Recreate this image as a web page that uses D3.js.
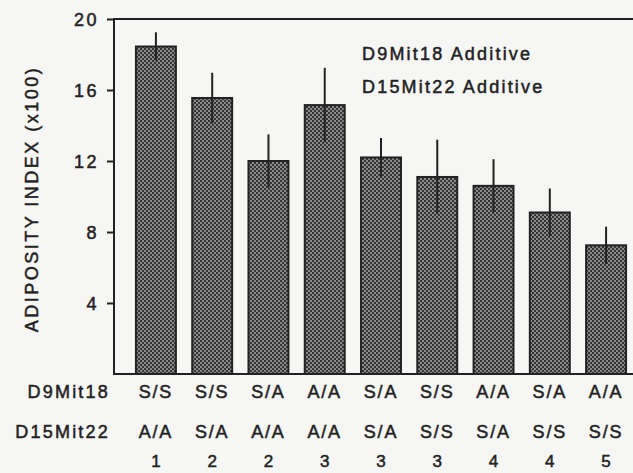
<!DOCTYPE html>
<html><head><meta charset="utf-8">
<script src="https://cdn.jsdelivr.net/npm/d3@7"></script>
<style>
html,body{margin:0;padding:0;background:#f6f6f4;overflow:hidden;}
svg{display:block;}
text{font-family:"Liberation Sans",Arial,Helvetica,sans-serif;fill:#222;stroke:#222;stroke-width:0.5px;}
</style></head>
<body>
<script>
const d9Mit18 = ["S/S","S/S","S/A","A/A","S/A","S/S","A/A","S/A","A/A"];
const d15Mit22 = ["A/A","S/A","A/A","A/A","S/A","S/S","S/A","S/S","S/S"];
const groupNumbers = ["1","2","2","3","3","3","4","4","5"];
const meanValues = [18.45, 15.55, 12.0, 15.15, 12.2, 11.1, 10.6, 9.1, 7.25];
const errValues = [0.8, 1.42, 1.5, 2.1, 1.1, 2.1, 1.5, 1.35, 1.05];
const yTicks = [4, 8, 12, 16, 20];
const legendLines = ["D9Mit18 Additive", "D15Mit22 Additive"];
const rowLabels = ["D9Mit18", "D15Mit22"];
const yTitle = "ADIPOSITY INDEX (x100)";

const W = 633, H = 473;
const mLeft = 114, mTop = 19, mBottom = 374, mRight = 633;

const svg = d3.select("body").append("svg").attr("width", W).attr("height", H);

const defs = svg.append("defs");
const pat = defs.append("pattern").attr("id","checker").attr("patternUnits","userSpaceOnUse")
  .attr("width",4).attr("height",4);
pat.append("rect").attr("width",4).attr("height",4).attr("fill","#8a8a8a");
pat.append("rect").attr("width",2).attr("height",2).attr("fill","#353535");
pat.append("rect").attr("x",2).attr("y",2).attr("width",2).attr("height",2).attr("fill","#353535");

const idx = d3.range(meanValues.length);
const x = d3.scaleBand().domain(idx).range([mLeft, 648]).paddingInner(0.29).paddingOuter(0.39);
const y = d3.scaleLinear().domain([0, 20]).range([mBottom, mTop]);

// bars
svg.append("g").selectAll("rect").data(idx).join("rect")
  .attr("x", i => x(i)).attr("width", x.bandwidth())
  .attr("y", i => y(meanValues[i])).attr("height", i => y(0) - y(meanValues[i]))
  .attr("fill", "url(#checker)").attr("stroke", "#222").attr("stroke-width", 2);

// error bars
svg.append("g").selectAll("line").data(idx).join("line")
  .attr("x1", i => x(i) + x.bandwidth()/2).attr("x2", i => x(i) + x.bandwidth()/2)
  .attr("y1", i => y(meanValues[i] + errValues[i])).attr("y2", i => y(meanValues[i] - errValues[i]))
  .attr("stroke", "#222").attr("stroke-width", 2);

// y axis
const yAxis = d3.axisLeft(y).tickValues(yTicks).tickSize(7).tickPadding(8).tickFormat(d3.format("d"));
const gy = svg.append("g").attr("transform", `translate(${mLeft},0)`).call(yAxis);
gy.select(".domain").remove();
gy.selectAll(".tick line").attr("stroke", "#222").attr("stroke-width", 2);
gy.selectAll(".tick text").attr("font-size", 18).attr("fill", "#222").attr("dy", "0.36em")
  .attr("letter-spacing", "2.5px").attr("font-family", "Liberation Sans, Arial, sans-serif");

// frame lines
const frame = svg.append("g").attr("stroke", "#222").attr("stroke-width", 2).attr("fill", "none");
frame.append("line").attr("x1", mLeft).attr("x2", mLeft).attr("y1", mTop).attr("y2", mBottom + 1);
frame.append("line").attr("x1", mLeft - 1).attr("x2", mRight).attr("y1", mTop).attr("y2", mTop);
frame.append("line").attr("x1", mLeft - 1).attr("x2", mRight).attr("y1", mBottom).attr("y2", mBottom);

// y title
svg.append("text").attr("transform", `translate(38,199) rotate(-90)`)
  .attr("text-anchor", "middle").attr("font-size", 18).attr("letter-spacing", "2.5px")
  .text(yTitle);

// legend text
svg.append("g").selectAll("text").data(legendLines).join("text")
  .attr("x", 362).attr("y", (d, i) => 60 + i * 33)
  .attr("font-size", 18).attr("letter-spacing", "2.2px").text(d => d);

// row labels
const rowY = [398, 438];
svg.append("g").selectAll("text").data(rowLabels).join("text")
  .attr("x", 110).attr("y", (d, i) => rowY[i]).attr("text-anchor", "end")
  .attr("font-size", 18).attr("letter-spacing", "2.2px").text(d => d);

// category labels
const rows = [d9Mit18, d15Mit22];
rows.forEach((arr, r) => {
  svg.append("g").selectAll("text").data(idx).join("text")
    .attr("x", i => x(i) + x.bandwidth()/2).attr("y", rowY[r]).attr("text-anchor", "middle")
    .attr("font-size", 18).attr("letter-spacing", "1.8px").text(i => arr[i]);
});
svg.append("g").selectAll("text").data(idx).join("text")
  .attr("x", i => x(i) + x.bandwidth()/2).attr("y", 467).attr("text-anchor", "middle")
  .attr("font-size", 17).text(i => groupNumbers[i]);
</script>
</body></html>
